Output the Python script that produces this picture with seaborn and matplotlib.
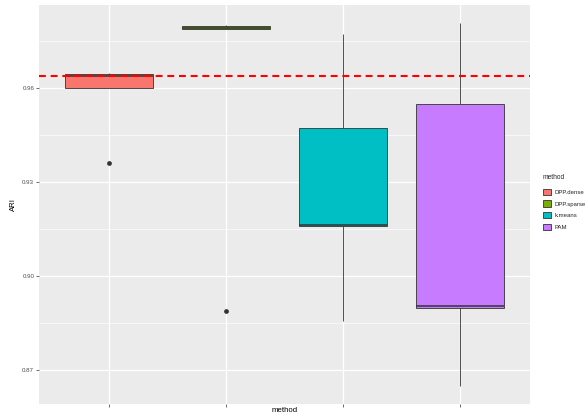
import numpy as np
import pandas as pd
import matplotlib
matplotlib.use("Agg")
import matplotlib.pyplot as plt
import seaborn as sns

# ARI scores per clustering method
methods = ["DPP.dense", "DPP.sparse", "k.means", "PAM"]
ari_dpp_dense = [0.9361, 0.9599, 0.9599, 0.9620, 0.9636, 0.9640, 0.9643, 0.9645, 0.9647]
ari_dpp_sparse = [0.8889, 0.9786, 0.9786, 0.9789, 0.9791, 0.9793, 0.9795, 0.9797, 0.9799]
ari_kmeans = [0.8858, 0.9100, 0.9160, 0.9161, 0.9163, 0.9300, 0.9473, 0.9600, 0.9770]
ari_pam = [0.8651, 0.8800, 0.8897, 0.8900, 0.8905, 0.9200, 0.9549, 0.9700, 0.9805]
reference_ari = 0.9636

y_ticks = [0.87, 0.90, 0.93, 0.96]
y_tick_labels = ["0.87", "0.90", "0.93", "0.96"]
palette = ["#F8766D", "#7CAE00", "#00BFC4", "#C77CFF"]

df = pd.DataFrame({
    "method": np.repeat(methods, [len(ari_dpp_dense), len(ari_dpp_sparse),
                                  len(ari_kmeans), len(ari_pam)]),
    "ARI": ari_dpp_dense + ari_dpp_sparse + ari_kmeans + ari_pam,
})

sns.set_theme(style="darkgrid")
plt.rcParams["font.family"] = ["Liberation Sans", "DejaVu Sans"]

fig = plt.figure(figsize=(5.87, 4.16), dpi=100)
ax = fig.add_axes([39 / 587, 12 / 416, (530 - 39) / 587, (404 - 5) / 416])
ax.set_facecolor("#EBEBEB")

sns.boxplot(
    data=df, x="method", y="ARI", hue="method", order=methods, hue_order=methods,
    palette=palette, saturation=1, width=0.75, whis=1.5, showcaps=False,
    linecolor="#333333", linewidth=0.6, fliersize=2.4,
    medianprops=dict(linewidth=1.1, color="#333333"),
    flierprops=dict(marker="o", markerfacecolor="#333333", markeredgecolor="#333333"),
    legend=True, ax=ax, zorder=3,
)

ax.axhline(reference_ari, color="red", linewidth=1.5, linestyle=(0, (3.3, 2.3)), zorder=5)

ax.set_ylim(0.8593, 0.9863)
ax.set_xlim(-0.6, 3.6)
ax.set_yticks(y_ticks)
ax.set_yticklabels(y_tick_labels)
ax.set_yticks([0.885, 0.915, 0.945, 0.975], minor=True)
ax.set_xticks(range(len(methods)))
ax.set_xticklabels([""] * len(methods))

ax.grid(which="major", color="white", linewidth=0.9, zorder=0)
ax.grid(which="minor", axis="y", color="white", linewidth=0.45, zorder=0)
ax.set_axisbelow(True)
for s in ax.spines.values():
    s.set_visible(False)

ax.tick_params(axis="both", which="major", length=2, width=0.5, color="#333333",
               labelsize=4.4, labelcolor="#4D4D4D", pad=1.5, bottom=True, left=True)
ax.tick_params(axis="both", which="minor", length=0)

ax.set_xlabel("method", fontsize=5.6, color="black")
ax.xaxis.set_label_coords(0.5, -0.016)
ax.xaxis.label.set_va("center")
ax.set_ylabel("ARI", fontsize=5.6, color="black", labelpad=4)

sns.move_legend(
    ax, "upper left", bbox_to_anchor=(543 / 587, 1 - 174 / 416),
    bbox_transform=fig.transFigure, frameon=False, title="method",
    fontsize=4.3, title_fontsize=4.8, handlelength=1.3, handleheight=1.3,
    labelspacing=0.86, handletextpad=0.7, borderaxespad=0, borderpad=0,
)
leg = ax.get_legend()
leg._legend_box.align = "left"
leg._legend_box.sep = 5.5

fig.savefig("out.png", dpi=100)
